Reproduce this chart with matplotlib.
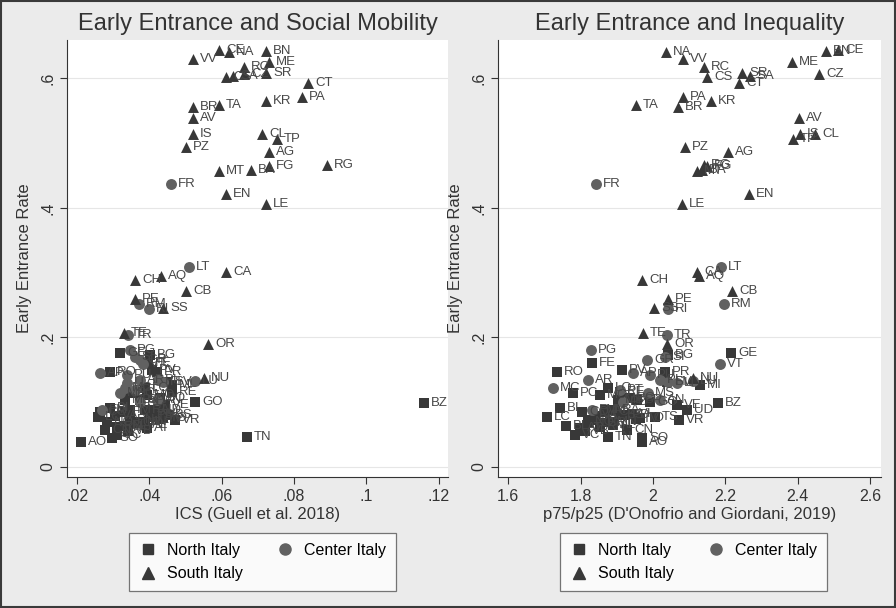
import matplotlib.pyplot as plt
from matplotlib.lines import Line2D
from matplotlib.patches import Rectangle

plt.rcParams["font.family"] = ["Liberation Sans", "DejaVu Sans"]

# %% data: early entrance rate by province, vs ICS and p75/p25

north_names = ["GE", "BG", "FE", "PV", "PR", "RO", "SV", "MI", "LO", "RE", "PC", "MO",
               "BO", "SP", "GO", "BZ", "VE", "BI", "UD", "RA", "FC", "VI", "PD", "CO",
               "VA", "TO", "VR", "LC", "PN", "TV", "MN", "CR", "NO", "AL", "BS", "BL",
               "AT", "RN", "CN", "VB", "VC", "TS", "SO", "AO", "TN", "IM", "MB"]
north_rate = [.176, .173, .160, .150, .147, .147, .131, .126, .122, .116, .114, .111,
              .106, .103, .100, .099, .096, .091, .088, .088, .085, .082, .080, .085,
              .079, .076, .0725, .077, .0725, .074, .069, .068, .069, .065, .080, .063,
              .060, .062, .057, .055, .049, .077, .045, .039, .046, .088, .103]
north_ics = [.0319, .0402, .0396, .0407, .0421, .0291, .0449, .0463, .0388, .0463, .0347, .0394,
             .0430, .0374, .0526, .1160, .0443, .0291, .0416, .0388, .0333, .0430, .0402, .0264,
             .0305, .0438, .0471, .0258, .0347, .0430, .0374, .0360, .0283, .0388, .0452, .0333,
             .0394, .0311, .0277, .0341, .0311, .0402, .0297, .0211, .0670, .0347, .0333]
north_p7525 = [2.216, 2.042, 1.832, 1.915, 2.034, 1.735, 2.039, 2.130, 1.876, 1.909, 1.780, 1.854,
               1.937, 1.956, 1.992, 2.180, 2.067, 1.744, 2.094, 1.896, 1.868, 1.943, 1.923, 1.804,
               1.840, 1.965, 2.072, 1.708, 1.832, 1.954, 1.882, 1.854, 1.821, 1.890, 1.909, 1.760,
               1.799, 1.854, 1.929, 1.813, 1.785, 2.006, 1.970, 1.970, 1.876, 1.868, 1.904]

center_names = ["FR", "LT", "RM", "RI", "TR", "PG", "SI", "GR", "VT", "AP", "PU", "AR",
                "PI", "LU", "FI", "LI", "MC", "PT", "MS", "AN", "PO", "FM"]
center_rate = [.437, .309, .251, .244, .204, .180, .170, .165, .159, .145, .142, .134,
               .134, .133, .131, .130, .122, .119, .114, .103, .100, .088]
center_ics = [.0460, .0510, .0372, .0399, .0341, .0347, .0360, .0374, .0383, .0264, .0338, .0374,
              .0424, .0526, .0438, .0338, .0333, .0360, .0319, .0421, .0374, .0269]
center_p7525 = [1.843, 2.188, 2.197, 2.042, 2.039, 1.829, 2.034, 1.984, 2.186, 1.945, 1.992, 1.821,
                2.020, 2.111, 2.042, 2.067, 1.724, 1.909, 1.987, 2.020, 1.918, 1.832]

south_names = ["VV", "NA", "CE", "BN", "ME", "RC", "CS", "SA", "CZ", "SR", "CT", "PA",
               "KR", "TA", "BR", "AV", "IS", "CL", "TP", "PZ", "AG", "MT", "BA", "FG",
               "RG", "EN", "LE", "CA", "AQ", "CH", "CB", "PE", "SS", "TE", "OR", "NU"]
south_rate = [.629, .640, .643, .642, .625, .617, .602, .603, .606, .608, .592, .571,
              .565, .558, .555, .538, .514, .514, .506, .494, .486, .457, .458, .464,
              .466, .422, .406, .301, .295, .288, .271, .259, .245, .207, .190, .137]
south_ics = [.0521, .0620, .0593, .0723, .0731, .0662, .0612, .0632, .0662, .0723, .0839, .0822,
             .0723, .0593, .0521, .0521, .0521, .0712, .0753, .0502, .0731, .0593, .0681, .0731,
             .0892, .0612, .0723, .0612, .0432, .0360, .0502, .0360, .0438, .0330, .0562, .0551]
south_p7525 = [2.083, 2.036, 2.512, 2.478, 2.385, 2.141, 2.150, 2.268, 2.459, 2.246, 2.238, 2.083,
               2.161, 1.954, 2.070, 2.404, 2.407, 2.448, 2.387, 2.089, 2.208, 2.122, 2.136, 2.150,
               2.141, 2.266, 2.081, 2.122, 2.128, 1.970, 2.219, 2.042, 2.003, 1.973, 2.039, 2.111]

# %% styling

bg = "#ebebeb"
dark = "#383838"
mid = "#616161"
label_col = "#474747"

groups = [
    ("North Italy", "s", dark, 46, north_names, north_rate, north_ics, north_p7525),
    ("Center Italy", "o", mid, 62, center_names, center_rate, center_ics, center_p7525),
    ("South Italy", "^", dark, 62, south_names, south_rate, south_ics, south_p7525),
]

fig = plt.figure(figsize=(8.96, 6.08), dpi=100, facecolor=bg)
fig.patches.append(Rectangle((0.001, 0.001), 0.998, 0.997, transform=fig.transFigure,
                             fill=False, edgecolor="#3a3a3a", linewidth=1.5))

ax1 = fig.add_axes([67 / 896, 1 - 477 / 608, 381 / 896, 437 / 608])
ax2 = fig.add_axes([498 / 896, 1 - 477 / 608, 383 / 896, 437 / 608])

panels = [
    (ax1, 6, "Early Entrance and Social Mobility", "ICS (Guell et al. 2018)",
     (0.0172, 0.1226), [.02, .04, .06, .08, .1, .12], [".02", ".04", ".06", ".08", ".1", ".12"],
     0.163),
    (ax2, 7, "Early Entrance and Inequality", "p75/p25 (D'Onofrio and Giordani, 2019)",
     (1.572, 2.630), [1.6, 1.8, 2.0, 2.2, 2.4, 2.6], ["1.6", "1.8", "2", "2.2", "2.4", "2.6"],
     0.162),
]

for ax, xi, title, xlabel, xlim, xticks, xticklabels, leg_x in panels:
    ax.set_facecolor("white")
    for g in groups:
        name, marker, color, size, names, rate = g[:6]
        xs = g[xi]
        ax.scatter(xs, rate, marker=marker, s=size, color=color, linewidths=0, zorder=3)
        for n, x, y in zip(names, xs, rate):
            ax.annotate(n, (x, y), xytext=(5, 0), textcoords="offset points",
                        ha="left", va="center", fontsize=9.5, color=label_col, zorder=4)

    ax.set_xlim(*xlim)
    ax.set_ylim(-0.0154, 0.659)
    ax.set_xticks(xticks, labels=xticklabels, fontsize=11.5, color="#333333")
    ax.set_yticks([0, .2, .4, .6], labels=["0", ".2", ".4", ".6"], fontsize=11.5,
                  color="#333333", rotation=90, va="center")
    ax.tick_params(direction="out", length=5, width=0.8, color="#333333")
    ax.grid(axis="y", color="#e6e6e6", linewidth=0.8, zorder=0)
    ax.set_axisbelow(True)
    ax.spines["top"].set_visible(False)
    ax.spines["right"].set_visible(False)
    ax.spines["left"].set_color("#333333")
    ax.spines["bottom"].set_color("#333333")
    ax.set_title(title, fontsize=17, color="#333333", pad=7)
    ax.set_xlabel(xlabel, fontsize=12, color="#333333", labelpad=2)
    ax.set_ylabel("Early Entrance Rate", fontsize=12, color="#333333", labelpad=6)

    handles = [
        Line2D([], [], marker="s", color=dark, linestyle="none", markersize=7),
        Line2D([], [], marker="^", color=dark, linestyle="none", markersize=8),
        Line2D([], [], marker="o", color=mid, linestyle="none", markersize=8),
    ]
    leg = ax.legend(handles, ["North Italy", "South Italy", "Center Italy"], ncol=2,
                    loc="upper left", bbox_to_anchor=(leg_x, -0.128), borderaxespad=0,
                    fontsize=11.5, frameon=True, fancybox=False, edgecolor="#555555",
                    columnspacing=2.0, handletextpad=0.6, labelspacing=0.55,
                    borderpad=0.6, handlelength=1.2)
    leg.get_frame().set_linewidth(0.9)

plt.savefig("out.png", dpi=100, facecolor=bg)
